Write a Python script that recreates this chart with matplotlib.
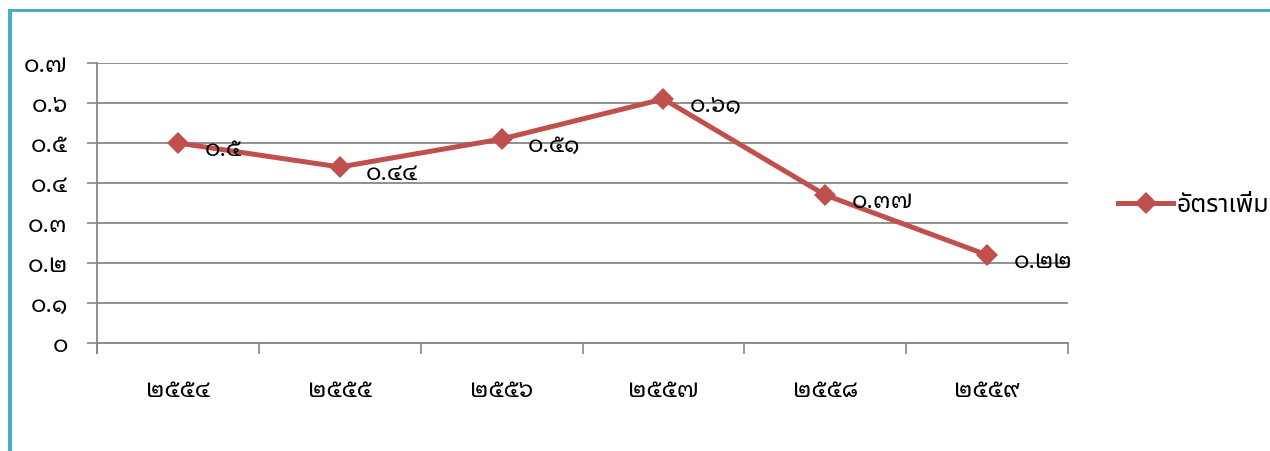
import matplotlib
matplotlib.use("Agg")
import matplotlib.pyplot as plt
from matplotlib.patches import Rectangle

plt.rcParams["font.family"] = ["Noto Sans Thai Looped", "Noto Sans Thai", "DejaVu Sans"]
plt.rcParams["font.weight"] = 300

years = ["๒๕๕๔", "๒๕๕๕", "๒๕๕๖", "๒๕๕๗", "๒๕๕๘", "๒๕๕๙"]
rates = [0.5, 0.44, 0.51, 0.61, 0.37, 0.22]
rate_labels = ["๐.๕", "๐.๔๔", "๐.๕๑", "๐.๖๑", "๐.๓๗", "๐.๒๒"]
y_ticks = [0, 0.1, 0.2, 0.3, 0.4, 0.5, 0.6, 0.7]
y_tick_labels = ["๐", "๐.๑", "๐.๒", "๐.๓", "๐.๔", "๐.๕", "๐.๖", "๐.๗"]
series_name = "อัตราเพิ่ม"

LINE_COLOR = "#C0504D"
GRID_COLOR = "#878787"
BORDER_COLOR = "#4BACC6"
FS = 17

W, H = 1270, 451
fig = plt.figure(figsize=(W / 100, H / 100), dpi=100)
ax = fig.add_axes([97 / W, 1 - 343 / H, (1068 - 97) / W, (343 - 63) / H])

xpos = [i + 0.5 for i in range(len(years))]
line, = ax.plot(xpos, rates, color=LINE_COLOR, linewidth=3.6,
                marker="D", markersize=11.5, markeredgewidth=0,
                label=series_name, zorder=3)

# data labels, right of and a bit below each point
for x, y, lab in zip(xpos, rates, rate_labels):
    ax.annotate(lab, (x, y), xytext=(19, -5), textcoords="offset points",
                ha="left", va="center", fontsize=FS, color="black")

ax.set_xlim(0, len(years))
ax.set_ylim(0, 0.7)

ax.set_yticks(y_ticks)
ax.set_yticklabels(y_tick_labels)
ax.set_xticks(range(len(years) + 1))
ax.set_xticklabels([])
ax.set_xticks(xpos, minor=True)
ax.set_xticklabels(years, minor=True)

ax.tick_params(axis="y", length=7, width=1.2, color=GRID_COLOR,
               labelsize=FS, pad=14)
ax.tick_params(axis="x", which="major", length=8, width=1.2, color=GRID_COLOR)
ax.tick_params(axis="x", which="minor", length=0, labelsize=FS, pad=26)

ax.grid(axis="y", color=GRID_COLOR, linewidth=1.3)
ax.set_axisbelow(True)
for side in ["top", "right"]:
    ax.spines[side].set_visible(False)
for side in ["left", "bottom"]:
    ax.spines[side].set_color(GRID_COLOR)
    ax.spines[side].set_linewidth(1.3)
ax.spines["left"].set_bounds(-0.025, 0.7)
ax.spines["left"].set_position(("data", 0))

leg = fig.legend(handles=[line], loc="center left",
                 bbox_to_anchor=(1118 / W, 1 - 205 / H), frameon=False,
                 prop={"family": ["Noto Sans Thai", "DejaVu Sans"], "size": 18,
                       "weight": 300},
                 handlelength=2.2, handletextpad=0.15,
                 borderpad=0, borderaxespad=0)

# frame of the original chart box
fig.add_artist(Rectangle((8 / W, 0), 4 / W, 1 - 9 / H, transform=fig.transFigure,
                         color=BORDER_COLOR, linewidth=0))
fig.add_artist(Rectangle((8 / W, 1 - 12 / H), 1 - 8 / W, 3 / H, transform=fig.transFigure,
                         color=BORDER_COLOR, linewidth=0))

fig.savefig("out.png", dpi=100)
